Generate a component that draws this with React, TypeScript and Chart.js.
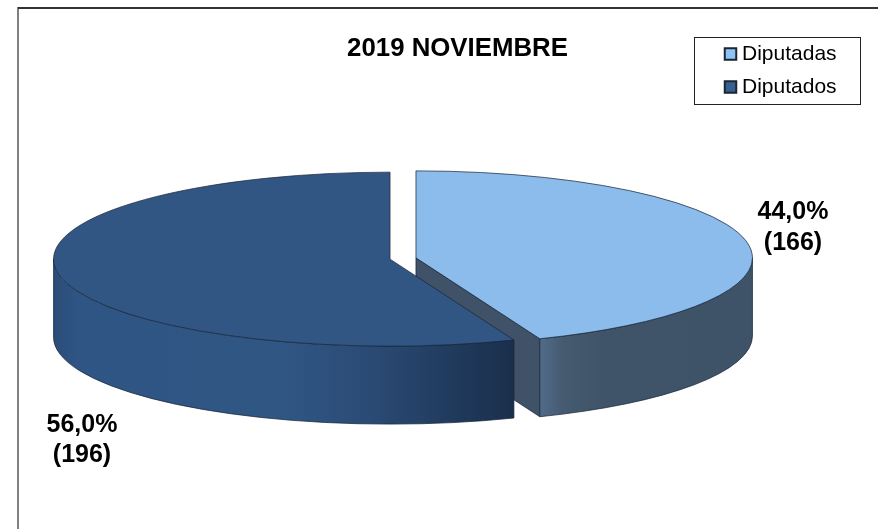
import React, { useEffect, useRef } from "react";
import { Chart, registerables } from "chart.js";

Chart.register(...registerables);

const titleText = "2019 NOVIEMBRE";
const categories = ["Diputadas", "Diputados"];
const percentages = [44.0, 56.0];
const counts = [166, 196];
const sliceColors = ["#8cbcec", "#325684"];
const markerColors = ["#8cc4f8", "#36608f"];

const FONT = "'Liberation Sans', Arial, sans-serif";
const W = 878;
const H = 529;
const CENTER_X = 403;
const CENTER_Y = 258.5;
const RADIUS = 336.5;
const SQUASH = 0.2585;
const DEPTH = 78;
const EXPLODE = 13.2;
const labelBaselines = [
  { x: 793, y1: 219, y2: 250 },
  { x: 82, y1: 432, y2: 462 },
];

const wallStops = [
  [[0, "#506b89"], [0.12, "#45596f"], [0.3, "#3f5369"], [1, "#3e5268"]],
  [[0, "#2a4c78"], [0.05, "#2f5584"], [0.5, "#305684"], [0.7, "#2a4a73"], [0.85, "#213c5f"], [1, "#1b2f4c"]],
];
const innerWallColor = "#3f5268";
const edgeColor = "rgba(24,36,56,0.9)";

function centerOf(arc: any) {
  const mid = (arc.startAngle + arc.endAngle) / 2;
  return {
    x: arc.x + Math.cos(mid) * EXPLODE,
    y: arc.y + Math.sin(mid) * EXPLODE * SQUASH,
  };
}

function topPath(ctx: CanvasRenderingContext2D, arc: any) {
  const c = centerOf(arc);
  ctx.beginPath();
  ctx.moveTo(c.x, c.y);
  ctx.ellipse(c.x, c.y, arc.outerRadius, arc.outerRadius * SQUASH, 0, arc.startAngle, arc.endAngle);
  ctx.closePath();
}

function drawWalls(ctx: CanvasRenderingContext2D, arc: any, index: number) {
  const c = centerOf(arc);
  const rx = arc.outerRadius;
  const ry = rx * SQUASH;
  const a = Math.max(arc.startAngle, 0);
  const b = Math.min(arc.endAngle, Math.PI);

  if (Math.sin(arc.endAngle) > 0 && arc.endAngle < Math.PI) {
    const ex = c.x + Math.cos(arc.endAngle) * rx;
    const ey = c.y + Math.sin(arc.endAngle) * ry;
    ctx.beginPath();
    ctx.moveTo(c.x, c.y);
    ctx.lineTo(ex, ey);
    ctx.lineTo(ex, ey + DEPTH);
    ctx.lineTo(c.x, c.y + DEPTH);
    ctx.closePath();
    ctx.fillStyle = innerWallColor;
    ctx.fill();
    ctx.strokeStyle = edgeColor;
    ctx.lineWidth = 0.8;
    ctx.stroke();
  }

  const x0 = c.x + Math.cos(b) * rx;
  const x1 = c.x + Math.cos(a) * rx;
  const grad = ctx.createLinearGradient(x0, 0, x1, 0);
  wallStops[index].forEach(([p, col]) => grad.addColorStop(p as number, col as string));
  ctx.beginPath();
  ctx.ellipse(c.x, c.y, rx, ry, 0, a, b);
  ctx.ellipse(c.x, c.y + DEPTH, rx, ry, 0, b, a, true);
  ctx.closePath();
  ctx.fillStyle = grad;
  ctx.fill();
  ctx.strokeStyle = edgeColor;
  ctx.lineWidth = 0.8;
  ctx.stroke();
}

const pie3d = {
  id: "pie3d",
  afterLayout(chart: any) {
    const half = 300;
    chart.chartArea = {
      left: CENTER_X - half,
      right: CENTER_X + half,
      top: CENTER_Y - half,
      bottom: CENTER_Y + half,
      width: half * 2,
      height: half * 2,
    };
    const t = chart.titleBlock;
    t.left = 307.5;
    t.right = 607.5;
    t.top = 33.5;
    t.bottom = 70;
    const l = chart.legend;
    l.left = 717.5;
    l.right = 878;
    l.top = 31.5;
    l.bottom = 140;
  },
  beforeDraw(chart: any) {
    const ctx = chart.ctx;
    ctx.save();
    ctx.fillStyle = "#808080";
    ctx.fillRect(17, 7, 2, H - 7);
    ctx.fillStyle = "#333333";
    ctx.fillRect(18, 7, W - 18, 2);
    ctx.restore();
  },
  beforeDatasetsDraw(chart: any) {
    const ctx = chart.ctx;
    const arcs = chart.getDatasetMeta(0).data;
    arcs.forEach((arc: any, i: number) => {
      ctx.save();
      drawWalls(ctx, arc, i);
      const c = centerOf(arc);
      ctx.save();
      ctx.translate(c.x, c.y);
      ctx.scale(1, SQUASH);
      ctx.translate(-arc.x, -arc.y);
      arc.draw(ctx);
      ctx.restore();
      topPath(ctx, arc);
      ctx.strokeStyle = edgeColor;
      ctx.lineWidth = 0.8;
      ctx.stroke();
      ctx.restore();
    });
    return false;
  },
  afterDraw(chart: any) {
    const ctx = chart.ctx;
    ctx.save();
    ctx.strokeStyle = "#222222";
    ctx.lineWidth = 1;
    ctx.strokeRect(694.5, 37.5, 166, 67);
    ctx.fillStyle = "#000000";
    ctx.font = `bold 25px ${FONT}`;
    ctx.textAlign = "center";
    ctx.textBaseline = "alphabetic";
    percentages.forEach((p, i) => {
      const pos = labelBaselines[i];
      ctx.fillText(`${p.toFixed(1).replace(".", ",")}%`, pos.x, pos.y1);
      ctx.fillText(`(${counts[i]})`, pos.x, pos.y2);
    });
    ctx.restore();
  },
};

export default function App() {
  const ref = useRef<HTMLCanvasElement>(null);
  useEffect(() => {
    const chart = new Chart(ref.current as HTMLCanvasElement, {
      type: "pie",
      data: {
        labels: categories,
        datasets: [
          {
            data: percentages,
            backgroundColor: sliceColors,
            borderWidth: 0,
          } as any,
        ],
      },
      options: {
        animation: false,
        responsive: false,
        radius: RADIUS,
        plugins: {
          tooltip: { enabled: false },
          title: {
            display: true,
            text: titleText,
            color: "#000000",
            padding: 0,
            font: { family: FONT, size: 25.8, weight: "bold" },
          },
          legend: {
            display: true,
            position: "right",
            align: "start",
            labels: {
              usePointStyle: true,
              pointStyle: "rect",
              boxWidth: 2,
              boxHeight: 11.5,
              padding: 12,
              color: "#000000",
              font: { family: FONT, size: 21 },
              generateLabels(c: any) {
                const base = (Chart as any).overrides.pie.plugins.legend.labels.generateLabels(c);
                return base.map((item: any, i: number) => ({
                  ...item,
                  fillStyle: markerColors[i],
                  strokeStyle: "#1c2430",
                  lineWidth: 2,
                }));
              },
            },
          },
        },
      } as any,
      plugins: [pie3d as any],
    });
    return () => chart.destroy();
  }, []);
  return (
    <div style={{ position: "absolute", left: 0, top: 0, width: W, height: H }}>
      <canvas ref={ref} width={W} height={H} style={{ display: "block" }} />
    </div>
  );
}
